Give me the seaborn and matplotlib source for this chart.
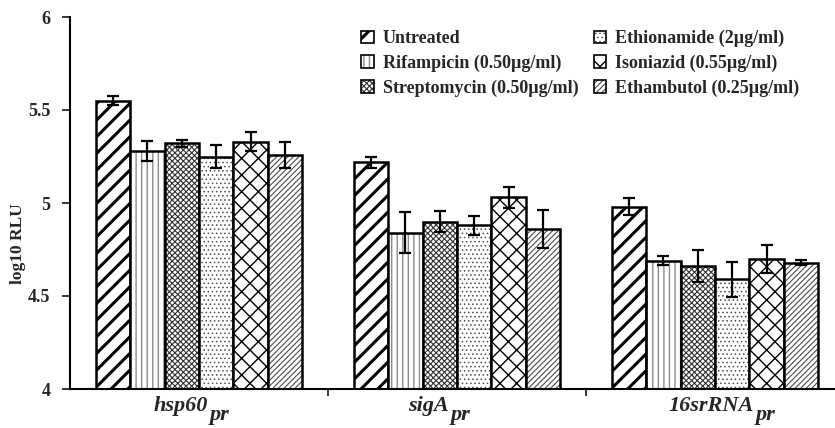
import matplotlib
matplotlib.use("Agg")
import matplotlib.pyplot as plt
import matplotlib.transforms as mtransforms
import matplotlib.colors as mcolors
from matplotlib.patches import Patch
import pandas as pd
import seaborn as sns

# Promoter groups and treatments
groups = ["hsp60", "sigA", "16srRNA"]
treatments = [
    "Untreated",
    "Rifampicin (0.50µg/ml)",
    "Streptomycin (0.50µg/ml)",
    "Ethionamide (2µg/ml)",
    "Isoniazid (0.55µg/ml)",
    "Ethambutol (0.25µg/ml)",
]

# Mean log10 RLU per promoter (hsp60, sigA, 16srRNA)
untreated = [5.55, 5.22, 4.98]
rifampicin = [5.28, 4.84, 4.69]
streptomycin = [5.32, 4.90, 4.66]
ethionamide = [5.25, 4.88, 4.59]
isoniazid = [5.33, 5.03, 4.70]
ethambutol = [5.26, 4.86, 4.68]

# Standard deviations
untreated_err = [0.025, 0.03, 0.045]
rifampicin_err = [0.055, 0.11, 0.025]
streptomycin_err = [0.02, 0.055, 0.085]
ethionamide_err = [0.06, 0.05, 0.095]
isoniazid_err = [0.05, 0.055, 0.075]
ethambutol_err = [0.07, 0.10, 0.015]

means = [untreated, rifampicin, streptomycin, ethionamide, isoniazid, ethambutol]
errors = [untreated_err, rifampicin_err, streptomycin_err,
          ethionamide_err, isoniazid_err, ethambutol_err]

rows = []
for t, vals, errs in zip(treatments, means, errors):
    for g, v, e in zip(groups, vals, errs):
        rows.append({"promoter": g, "treatment": t, "rlu": v, "sd": e})
df = pd.DataFrame(rows)

# Fill pattern, hatch line width and hatch colour for each treatment
hatches = ["//", "|||", "xxxxxx", "....", "xx", "//////"]
hatch_lw = [2.2, 1.0, 0.8, 0.6, 1.0, 0.8]
hatch_colors = ["black", "0.55", "0.2", "0.3", "black", "0.3"]


def style_patch(patch, hatch, lw, color):
    patch.set_hatch(hatch)
    if hasattr(patch, "set_hatch_linewidth"):
        patch.set_hatch_linewidth(lw)
    if hasattr(patch, "set_hatchcolor"):
        patch.set_hatchcolor(color)
    else:
        patch._hatch_color = mcolors.to_rgba(color)


sns.set_style("white")
serif = ["Liberation Serif", "DejaVu Serif"]
plt.rcParams["font.family"] = serif
plt.rcParams["font.weight"] = "bold"

fig = plt.figure(figsize=(8.35, 4.28), dpi=100)
ax = fig.add_axes([70 / 835, 39 / 428, (844 - 70) / 835, 372 / 428])

sns.barplot(data=df, x="promoter", y="rlu", hue="treatment",
            order=groups, hue_order=treatments,
            palette=["white"] * len(treatments), edgecolor="black",
            linewidth=1.8, errorbar=None, width=0.8, legend=False, ax=ax)

for cont, h, lw, hc, errs, vals in zip(ax.containers, hatches, hatch_lw,
                                        hatch_colors, errors, means):
    xs = []
    for patch in cont.patches:
        style_patch(patch, h, lw, hc)
        xs.append(patch.get_x() + patch.get_width() / 2)
    ax.errorbar(xs, vals, yerr=errs, fmt="none", ecolor="black",
                elinewidth=1.6, capsize=4, capthick=1.6, zorder=5)

ax.set_ylim(4, 6)
ax.set_xlim(-0.5, 2.5)
ax.set_yticks([4, 4.5, 5, 5.5, 6])
ax.set_yticklabels(["4", "4.5", "5", "5.5", "6"], fontsize=13, fontweight="bold")
ax.tick_params(axis="y", direction="out", length=6, width=1.3, left=True, pad=8)

# Group separators on the x axis, labels drawn as text below
ax.set_xticks([0.5, 1.5])
ax.set_xticklabels([])
ax.tick_params(axis="x", direction="out", length=5, width=1.3, bottom=True)
ax.set_xlabel("")
ax.set_ylabel("log10 RLU", fontsize=12.5, fontweight="bold")
ax.yaxis.set_label_coords(-0.057, 0.392)

for side in ("top", "right"):
    ax.spines[side].set_visible(False)
for side in ("left", "bottom"):
    ax.spines[side].set_linewidth(1.5)
    ax.spines[side].set_color("black")

# Italic promoter names with a lowered "pr" suffix
label_split_px = [9, -8, 39]
blend = mtransforms.blended_transform_factory(ax.transData, fig.transFigure)
for i, (g, dx) in enumerate(zip(groups, label_split_px)):
    tr_main = mtransforms.offset_copy(blend, fig=fig, x=dx, y=0, units="dots")
    ax.text(i, 1 - 411 / 428, g, transform=tr_main, ha="right", va="baseline",
            fontsize=16, fontstyle="italic", fontweight="bold")
    tr_sub = mtransforms.offset_copy(blend, fig=fig, x=dx + 2, y=0, units="dots")
    ax.text(i, 1 - 420 / 428, "pr", transform=tr_sub, ha="left", va="baseline",
            fontsize=16, fontstyle="italic", fontweight="bold")

handles = []
for h, lw, hc in zip(hatches, hatch_lw, hatch_colors):
    hp = Patch(facecolor="white", edgecolor="black", linewidth=1.2)
    style_patch(hp, h, lw, hc)
    handles.append(hp)

leg = fig.legend(handles, treatments, loc="upper left",
                 bbox_to_anchor=(361 / 835, 1 - 30 / 428), ncol=2, frameon=False,
                 prop={"family": serif, "weight": "bold", "size": 13},
                 handlelength=0.7, handleheight=0.7, handletextpad=0.5,
                 columnspacing=0.85, labelspacing=0.41, borderpad=0, borderaxespad=0)
for hp, h, lw, hc in zip(leg.legend_handles, hatches, hatch_lw, hatch_colors):
    style_patch(hp, h, lw, hc)

fig.savefig("out.png", dpi=100, facecolor="white")
